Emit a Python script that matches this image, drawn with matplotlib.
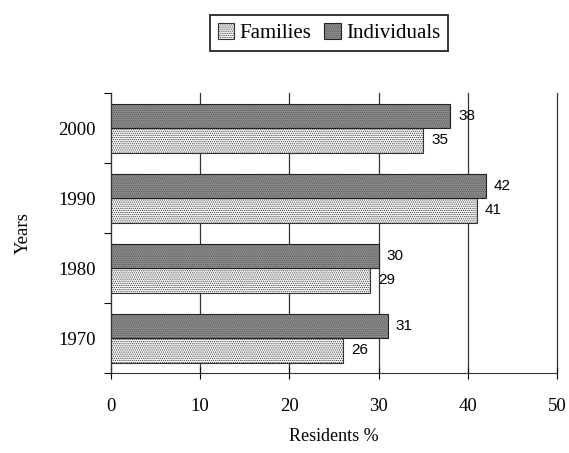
import numpy as np
import matplotlib.pyplot as plt
import matplotlib as mpl

years = ['1970', '1980', '1990', '2000']
families = [26, 29, 41, 35]
individuals = [31, 30, 42, 38]

mpl.rcParams['hatch.linewidth'] = 0.5
serif = 'Liberation Serif'

fig = plt.figure(figsize=(5.69, 4.53), dpi=100)
ax = fig.add_axes([0.195, 0.1766, 0.784, 0.618])

y = np.arange(len(years))
h = 0.35
mpl.rcParams['hatch.color'] = '#9a9a9a'
b1 = ax.barh(y - h / 2, families, height=h, color='#f4f4f4', edgecolor='#333333',
             hatch='........', linewidth=0.8, label='Families')
b2 = ax.barh(y + h / 2, individuals, height=h, color='#8a8a8a', edgecolor='#222222',
             hatch='........', linewidth=0.8, label='Individuals')
for bar in b2:
    bar._hatch_color = mpl.colors.to_rgba('#5a5a5a')

for bars, vals in ((b1, families), (b2, individuals)):
    for bar, v in zip(bars, vals):
        ax.annotate(str(v), (v, bar.get_y() + bar.get_height() / 2),
                    xytext=(6, 0), textcoords='offset points', va='center',
                    ha='left', fontsize=11, family='Liberation Sans')

ax.set_xlim(0, 50)
ax.set_ylim(-0.5, 3.5)
ax.set_xticks(range(0, 51, 10))
ax.set_yticks(np.arange(-0.5, 3.6, 1))
ax.set_yticklabels([])
ax.set_yticks(y, minor=True)
ax.set_yticklabels(years, minor=True, fontsize=13.5, family=serif)
ax.tick_params(axis='y', which='minor', length=0, pad=11)
ax.tick_params(axis='y', which='major', length=5, direction='out')
ax.tick_params(axis='x', direction='inout', length=8, labelsize=13.5, pad=14)
for lbl in ax.get_xticklabels():
    lbl.set_family(serif)

ax.xaxis.grid(True, color='#333333', linewidth=0.9)
for gl in ax.get_xgridlines():
    gl.set_clip_on(False)
ax.set_axisbelow(True)
ax.spines['top'].set_visible(False)
ax.spines['right'].set_visible(False)
ax.spines['left'].set_color('#333333')
ax.spines['bottom'].set_color('#333333')

ax.set_xlabel('Residents %', fontsize=13, family=serif, labelpad=9)
ax.set_ylabel('Years', fontsize=13.5, family=serif, labelpad=19)

leg = fig.legend(handles=[b1, b2], loc='upper center', bbox_to_anchor=(0.578, 0.967),
                 borderaxespad=0, ncol=2, frameon=True, fancybox=False,
                 handlelength=0.8, handleheight=0.8, handletextpad=0.25,
                 columnspacing=0.6, borderpad=0.38,
                 prop={'family': serif, 'size': 15})
leg.get_frame().set_edgecolor('black')
leg.get_frame().set_linewidth(1.4)

fig.savefig('out.png', dpi=100)
